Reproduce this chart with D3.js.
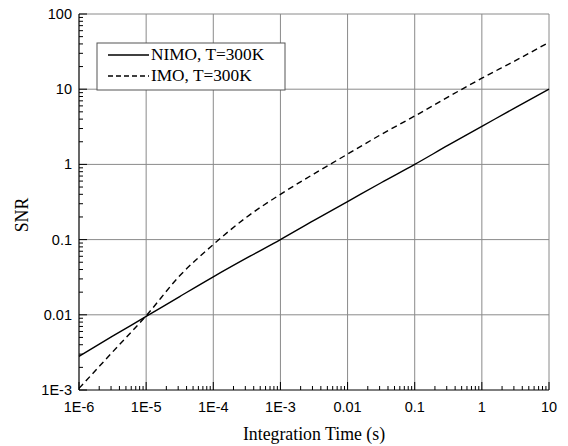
<!DOCTYPE html>
<html><head><meta charset="utf-8">
<script src="https://cdn.jsdelivr.net/npm/d3@7"></script>
<style>body{margin:0;background:#fff}svg{display:block}</style>
</head><body>
<script>
const times = [1e-6, 3.16e-6, 1e-5, 3.16e-5, 1e-4, 3.16e-4, 1e-3, 3.16e-3, 0.01, 0.0316, 0.1, 0.316, 1, 3.16, 10];
const nimo  = [0.0028, 0.0052, 0.0095, 0.0175, 0.032, 0.057, 0.1, 0.18, 0.32, 0.57, 1.0, 1.8, 3.2, 5.7, 10];
const imo   = [0.00105, 0.0032, 0.0097, 0.033, 0.086, 0.2, 0.4, 0.75, 1.37, 2.5, 4.4, 7.9, 14, 24, 42];
const xTickLabels = ["1E-6","1E-5","1E-4","1E-3","0.01","0.1","1","10"];
const yTickLabels = ["1E-3","0.01","0.1","1","10","100"];
const seriesNames = ["NIMO, T=300K","IMO, T=300K"];

const W=568,H=446, L=79, R=549, T=14, B=390;
const svg=d3.select("body").append("svg").attr("width",W).attr("height",H);
svg.append("rect").attr("width",W).attr("height",H).attr("fill","#fff");
const x=d3.scaleLog().domain([1e-6,10]).range([L,R]);
const y=d3.scaleLog().domain([1e-3,100]).range([B,T]);
const xMaj=xTickLabels.map((d,i)=>Math.pow(10,-6+i));
const yMaj=yTickLabels.map((d,i)=>Math.pow(10,-3+i));
const grid="#8a8a8a";
// grid
svg.append("g").selectAll("line").data(xMaj.slice(1)).join("line")
 .attr("x1",d=>x(d)).attr("x2",d=>x(d)).attr("y1",T).attr("y2",B).attr("stroke",grid).attr("stroke-width",1);
svg.append("g").selectAll("line").data(yMaj.slice(1)).join("line")
 .attr("y1",d=>y(d)).attr("y2",d=>y(d)).attr("x1",L).attr("x2",R).attr("stroke",grid).attr("stroke-width",1);
// minor ticks
const xMinor=[];xMaj.slice(0,-1).forEach(d=>{for(let k=2;k<10;k++)xMinor.push(d*k);});
const yMinor=[];yMaj.slice(0,-1).forEach(d=>{for(let k=2;k<10;k++)yMinor.push(d*k);});
svg.append("g").selectAll("line").data(xMinor).join("line")
 .attr("x1",d=>x(d)).attr("x2",d=>x(d)).attr("y1",B).attr("y2",B-4).attr("stroke","#000");
svg.append("g").selectAll("line").data(xMaj).join("line")
 .attr("x1",d=>x(d)).attr("x2",d=>x(d)).attr("y1",B).attr("y2",B-8).attr("stroke","#000");
svg.append("g").selectAll("line").data(yMinor).join("line")
 .attr("y1",d=>y(d)).attr("y2",d=>y(d)).attr("x1",L).attr("x2",L+4).attr("stroke","#000");
svg.append("g").selectAll("line").data(yMaj).join("line")
 .attr("y1",d=>y(d)).attr("y2",d=>y(d)).attr("x1",L).attr("x2",L+8).attr("stroke","#000");
// axes lines
svg.append("line").attr("x1",L).attr("x2",L).attr("y1",T).attr("y2",B).attr("stroke","#000").attr("stroke-width",1.2);
svg.append("line").attr("x1",L).attr("x2",R).attr("y1",B).attr("y2",B).attr("stroke","#000").attr("stroke-width",1.2);
// tick labels
svg.append("g").selectAll("text").data(xMaj).join("text")
 .attr("x",d=>x(d)).attr("y",B+22).attr("text-anchor","middle")
 .attr("font-family","Liberation Sans, Arial, sans-serif").attr("font-size",14.5).text((d,i)=>xTickLabels[i]);
svg.append("g").selectAll("text").data(yMaj).join("text")
 .attr("x",L-7).attr("y",d=>y(d)+5).attr("text-anchor","end")
 .attr("font-family","Liberation Sans, Arial, sans-serif").attr("font-size",14.5).text((d,i)=>yTickLabels[i]);
// titles
svg.append("text").attr("x",(L+R)/2).attr("y",440).attr("text-anchor","middle")
 .attr("font-family","Liberation Serif, Times New Roman, serif").attr("font-size",17.8).text("Integration Time (s)");
svg.append("text").attr("transform","translate(28,215) rotate(-90)").attr("text-anchor","middle")
 .attr("font-family","Liberation Serif, Times New Roman, serif").attr("font-size",17.8).text("SNR");
// lines
const line=d3.line().x(d=>x(d[0])).y(d=>y(d[1])).curve(d3.curveMonotoneX);
svg.append("path").attr("d",line(times.map((t,i)=>[t,nimo[i]]))).attr("fill","none").attr("stroke","#000").attr("stroke-width",1.4);
svg.append("path").attr("d",line(times.map((t,i)=>[t,imo[i]]))).attr("fill","none").attr("stroke","#000").attr("stroke-width",1.4).attr("stroke-dasharray","6,4");
// legend
const lg=svg.append("g");
lg.append("rect").attr("x",97).attr("y",43).attr("width",188).attr("height",47).attr("fill","#fff").attr("stroke","#555").attr("stroke-width",1);
seriesNames.forEach((n,i)=>{
  const yy=55+i*21;
  lg.append("line").attr("x1",108).attr("x2",149).attr("y1",yy).attr("y2",yy).attr("stroke","#000").attr("stroke-width",1.4)
    .attr("stroke-dasharray",i?"5,3":null);
  lg.append("text").attr("x",151).attr("y",yy+5).attr("font-family","Liberation Serif, Times New Roman, serif").attr("font-size",17.3).text(n);
});
</script>
</body></html>
